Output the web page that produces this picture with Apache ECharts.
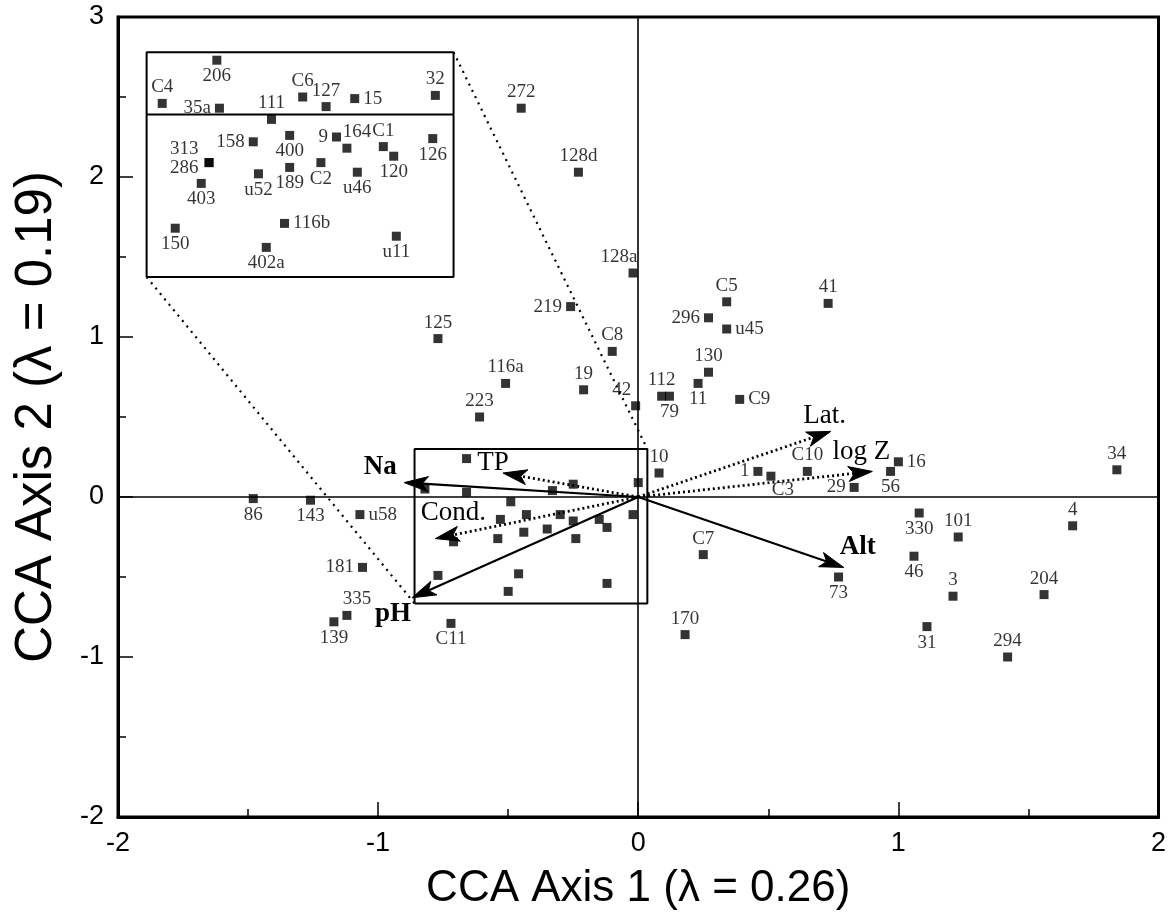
<!DOCTYPE html>
<html><head><meta charset="utf-8">
<script src="https://cdn.jsdelivr.net/npm/echarts@6/dist/echarts.min.js"></script>
<style>html,body{margin:0;padding:0;background:#fff}#c{width:1169px;height:919px}</style>
</head><body><div id="c"></div>
<script>
// ---------- data ----------
const xTickValues = [-2, -1, 0, 1, 2];
const xTickLabels = ['-2', '-1', '0', '1', '2'];
const yTickValues = [-2, -1, 0, 1, 2, 3];
const yTickLabels = ['-2', '-1', '0', '1', '2', '3'];
const xTitle = 'CCA Axis 1 (\u03bb = 0.26)';
const yTitle = 'CCA Axis 2 (\u03bb = 0.19)';

// labelled sites in the main plot
const siteNames = ['272','128d','128a','219','125','C8','116a','19','42','223','112','79','C5','41','296','u45','130','11','C9','10','1','C3','C10','29','56','16','34','C7','73','330','101','4','46','3','204','170','31','294','86','143','u58','181','335','139','C11'];
const siteX = [-0.45,-0.23,-0.02,-0.26,-0.77,-0.10,-0.51,-0.21,-0.01,-0.61,0.09,0.12,0.34,0.73,0.27,0.34,0.27,0.23,0.39,0.08,0.46,0.51,0.65,0.83,0.97,1.00,1.84,0.25,0.77,1.08,1.23,1.67,1.06,1.21,1.56,0.18,1.11,1.42,-1.48,-1.26,-1.07,-1.06,-1.12,-1.17,-0.72];
const siteY = [2.43,2.03,1.40,1.19,0.99,0.91,0.71,0.67,0.57,0.50,0.63,0.63,1.22,1.21,1.12,1.05,0.78,0.71,0.61,0.15,0.16,0.13,0.16,0.06,0.16,0.22,0.17,-0.36,-0.50,-0.10,-0.25,-0.18,-0.37,-0.62,-0.61,-0.86,-0.81,-1.00,-0.01,-0.02,-0.11,-0.44,-0.74,-0.78,-0.79];

// labelled sites drawn in the inset (enlargement of the small box)
const insetNames = ['206','C4','35a','111','C6','127','15','32','158','400','9','164','C1','120','126','313','286','403','u52','189','C2','u46','150','116b','402a','u11'];
const insetX = [-1.62,-1.83,-1.61,-1.41,-1.29,-1.20,-1.09,-0.78,-1.48,-1.34,-1.16,-1.12,-0.98,-0.94,-0.79,-1.65,-1.65,-1.68,-1.46,-1.34,-1.22,-1.08,-1.78,-1.36,-1.43,-0.93];
const insetY = [2.73,2.46,2.43,2.36,2.50,2.44,2.49,2.51,2.22,2.26,2.25,2.18,2.19,2.13,2.24,2.09,2.09,1.96,2.02,2.06,2.09,2.03,1.68,1.71,1.56,1.63];

// unlabelled sites inside the small box
const boxX = [-0.66,-0.82,-0.66,-0.33,-0.25,0.00,-0.49,-0.53,-0.43,-0.30,-0.25,-0.15,-0.12,-0.02,-0.54,-0.44,-0.35,-0.24,-0.71,-0.77,-0.46,-0.50,-0.12];
const boxY = [0.24,0.05,0.03,0.04,0.08,0.09,-0.03,-0.14,-0.11,-0.11,-0.15,-0.14,-0.19,-0.11,-0.26,-0.22,-0.20,-0.26,-0.28,-0.49,-0.48,-0.59,-0.54];

// environmental vectors (biplot arrows from the origin)
const vectorNames = ['Na','TP','Cond.','pH','Alt','Lat.','log Z'];
const vectorX = [-0.90,-0.52,-0.78,-0.87,0.79,0.74,0.90];
const vectorY = [0.09,0.15,-0.26,-0.63,-0.44,0.41,0.16];

// inset frame, divider, small box and connector lines (data units)
const insetRectX = [-1.89, -0.71];
const insetRectY = [1.375, 2.78];
const insetDividerY = 2.39;
const zoomRectX = [-0.86, 0.035];
const zoomRectY = [-0.665, 0.30];

// ---------- styles ----------
const labelPlace = {
  '219':'l','128a':'tl','42':'tl','79':'b','296':'l','u45':'r','11':'b','C9':'r','1':'l','C3':'br',
  '29':'l','56':'b','16':'r','73':'b','330':'b','46':'b','31':'b','86':'b','143':'b','u58':'r',
  '181':'l','335':'tr','139':'b','C11':'b',
  '206':'b','35a':'l','15':'r','158':'l','400':'b','9':'l','164':'tr','120':'b','126':'b',
  '313':'lt','286':'lb','403':'b','u52':'b','189':'b','C2':'b','u46':'b','150':'b','116b':'r','402a':'b','u11':'b'
};
const vectorStyle = {
  'Na':   {dotted:false, bold:true,  off:[-24,-16]},
  'TP':   {dotted:true,  bold:false, off:[-10,-10]},
  'Cond.':{dotted:true,  bold:false, off:[18,-26]},
  'pH':   {dotted:false, bold:true,  off:[-19,16]},
  'Alt':  {dotted:false, bold:true,  off:[14,-20]},
  'Lat.': {dotted:true,  bold:false, off:[-6,-15]},
  'log Z':{dotted:true,  bold:false, off:[-11,-19]}
};
const SERIF = '"Liberation Serif","DejaVu Serif",serif';
const SANS = '"Liberation Sans","Arial",sans-serif';

function labelFor(name) {
  const p = labelPlace[name] || 't';
  const base = {show:true, formatter:name, color:'#000', fontFamily:SERIF, fontSize:19, distance:2};
  switch (p) {
    case 'b': return Object.assign(base, {position:'bottom'});
    case 'l': return Object.assign(base, {position:'left', distance:4});
    case 'r': return Object.assign(base, {position:'right', distance:4});
    case 'tl': return Object.assign(base, {position:'top', offset:[-14,0]});
    case 'tr': return Object.assign(base, {position:'top', offset:[10,0]});
    case 'br': return Object.assign(base, {position:'bottom', offset:[12,-2]});
    case 'lt': return Object.assign(base, {position:'left', distance:6, offset:[0,-14]});
    case 'lb': return Object.assign(base, {position:'left', distance:6, offset:[0,5]});
    default: return Object.assign(base, {position:'top'});
  }
}
function pts(names, xs, ys) {
  return names.map((n, i) => ({value:[xs[i], ys[i]], name:n, label:labelFor(n)}));
}
function rect(xr, yr) {
  return [[xr[0],yr[0]],[xr[1],yr[0]],[xr[1],yr[1]],[xr[0],yr[1]],[xr[0],yr[0]]];
}
const markerStyle = {symbol:'rect', symbolSize:9, itemStyle:{color:'#000'}};

const chart = echarts.init(document.getElementById('c'), null, {renderer:'canvas'});
const axisCommon = {
  type:'value', interval:1,
  axisLine:{show:true, onZero:false, lineStyle:{color:'#000', width:3}},
  axisTick:{show:true, inside:true, length:15, lineStyle:{color:'#000', width:1.5}},
  minorTick:{show:true, splitNumber:2, length:8, lineStyle:{color:'#000', width:1.5}},
  splitLine:{show:false}, minorSplitLine:{show:false},
  nameLocation:'middle'
};
chart.setOption({
  animation:false,
  backgroundColor:'#fff',
  grid:{left:118, right:7, top:17, bottom:102, show:true, borderColor:'#000', borderWidth:3, backgroundColor:'transparent'},
  xAxis: Object.assign({}, axisCommon, {
    min:-2, max:2,
    axisLabel:{color:'#000', fontFamily:SANS, fontSize:27, margin:13,
      formatter:v => xTickLabels[xTickValues.indexOf(v)]},
    name:xTitle, nameGap:50,
    nameTextStyle:{color:'#000', fontFamily:SANS, fontSize:44}
  }),
  yAxis: Object.assign({}, axisCommon, {
    min:-2, max:3,
    axisLabel:{color:'#000', fontFamily:SANS, fontSize:27, margin:14,
      formatter:v => yTickLabels[yTickValues.indexOf(v)]},
    name:yTitle, nameGap:56,
    nameTextStyle:{color:'#000', fontFamily:SANS, fontSize:51}
  }),
  series:[
    { // zero lines
      type:'scatter', data:[], silent:true,
      markLine:{silent:true, symbol:'none', label:{show:false}, animation:false,
        lineStyle:{color:'#000', width:1.6, type:'solid'},
        data:[{xAxis:0},{yAxis:0}]}
    },
    { type:'line', data:rect(insetRectX, insetRectY), showSymbol:false, silent:true,
      lineStyle:{color:'#000', width:2}, z:3 },
    { type:'line', data:[[insetRectX[0], insetDividerY],[insetRectX[1], insetDividerY]], showSymbol:false, silent:true,
      lineStyle:{color:'#000', width:2}, z:3 },
    { type:'line', data:rect(zoomRectX, zoomRectY), showSymbol:false, silent:true,
      lineStyle:{color:'#000', width:2}, z:3 },
    { type:'line', data:[[insetRectX[0], insetRectY[0]],[zoomRectX[0], zoomRectY[0]]], showSymbol:false, silent:true,
      lineStyle:{color:'#000', width:2.2, type:[2,5]}, z:3 },
    { type:'line', data:[[insetRectX[1], insetRectY[1]],[zoomRectX[1], zoomRectY[1]]], showSymbol:false, silent:true,
      lineStyle:{color:'#000', width:2.2, type:[2,5]}, z:3 },
    { // vectors
      type:'custom', silent:true, z:4,
      data: vectorNames.map((n,i) => [vectorX[i], vectorY[i], i]),
      renderItem:function(params, api){
        const name = vectorNames[api.value(2)];
        const st = vectorStyle[name];
        const o = api.coord([0,0]);
        const t = api.coord([api.value(0), api.value(1)]);
        const dx = t[0]-o[0], dy = t[1]-o[1];
        const len = Math.hypot(dx, dy);
        const ux = dx/len, uy = dy/len, px = -uy, py = ux;
        const hl = 24, hw = 7.5;
        const bx = t[0]-ux*hl, by = t[1]-uy*hl;
        return {type:'group', children:[
          {type:'line', shape:{x1:o[0], y1:o[1], x2:bx+ux*6, y2:by+uy*6},
            style:{stroke:'#000', lineWidth: st.dotted ? 2.8 : 2.2, lineDash: st.dotted ? [2,3] : null}},
          {type:'polygon', shape:{points:[[t[0],t[1]],[bx+px*hw,by+py*hw],[bx+ux*6,by+uy*6],[bx-px*hw,by-py*hw]]},
            style:{fill:'#000', stroke:'#000', lineWidth:1}}
        ].concat([
          {type:'text', x:t[0]+st.off[0], y:t[1]+st.off[1],
            style:{text:name, fill:'#000', align:'center', verticalAlign:'middle',
              font:(st.bold ? 'bold ' : '') + '27px ' + SERIF}}
        ])};
      }
    },
    Object.assign({type:'scatter', data:pts(siteNames, siteX, siteY), z:5}, markerStyle),
    Object.assign({type:'scatter', data:pts(insetNames, insetX, insetY), z:5}, markerStyle),
    Object.assign({type:'scatter', data:boxX.map((x,i) => [x, boxY[i]]), z:5}, markerStyle)
  ]
});
</script>
</body></html>
